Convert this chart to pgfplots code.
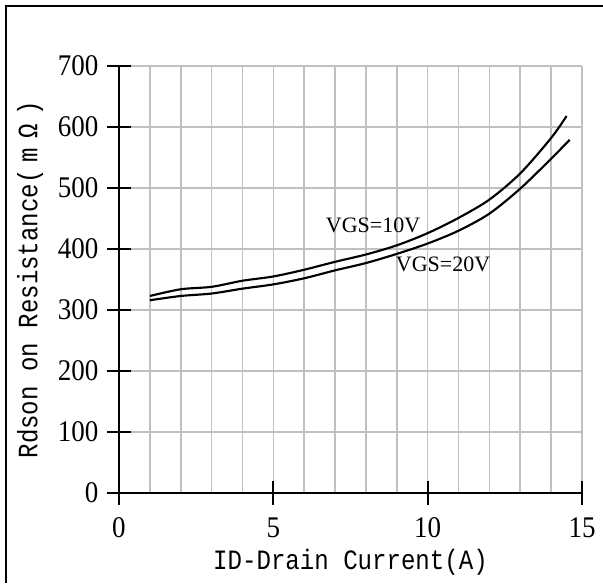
\documentclass[border=0pt]{standalone}
\usepackage{fontspec}
\setmainfont{Liberation Serif}
\newfontfamily\monof[FakeStretch=0.86]{Liberation Mono}
\newfontfamily\tickf[FakeStretch=0.9]{Liberation Serif}
\usepackage{pgfplots}
\pgfplotsset{compat=1.18}
\definecolor{gridgray}{RGB}{192,192,192}
\begin{document}
\begin{tikzpicture}[x=1pt,y=1pt]
\useasboundingbox (0,0) rectangle (452.25,437.25);
\fill[white] (0,0) rectangle (452.25,437.25);
\draw[line width=1.5pt] (4.5,0) -- (4.5,432.75) -- (452.25,432.75);
\begin{axis}[
  at={(89.25pt,67.5pt)}, anchor=origin,
  scale only axis, width=347.25pt, height=320.25pt,
  xmin=0, xmax=15, ymin=0, ymax=700,
  axis x line*=bottom, axis y line*=left,
  axis line style={line width=1.3pt, black},
  xtick={0,5,10,15}, ytick={0,100,...,700},
  minor xtick={1,2,3,4,6,7,8,9,11,12,13,14},
  grid=both,
  major grid style={gridgray, line width=1.2pt},
  minor grid style={gridgray, line width=1.2pt},
  tick align=center,
  major tick length=18pt, minor tick length=0pt,
  tick style={black, line width=1.3pt},
  /pgf/number format/assume math mode=true,
  ticklabel style={font=\tickf\fontsize{22.5}{24}\selectfont},
  yticklabel style={xshift=-3pt},
  xticklabel style={yshift=-6pt},
  xlabel={\monof ID-Drain Current(A)},
  ylabel={\monof Rdson on Resistance(\hspace{5pt}m\hspace{7pt}Ω\hspace{7pt})},
  label style={font=\fontsize{21}{22}\selectfont},
  xlabel style={at={(axis description cs:0.5,-0.1616)}, anchor=center},
  ylabel style={at={(axis description cs:-0.192,0.5)}, anchor=center, rotate=0},
  clip=false,
]
\addplot[black, line width=1.6pt, smooth] coordinates {
(1,323) (2,334) (3,338) (4,348) (5,355) (6,366) (7,379) (8,391) (9,406) (10,426) (11,451) (12,481) (13,524) (14,582) (14.5,618)};
\addplot[black, line width=1.6pt, smooth] coordinates {
(1,316) (2,323) (3,327) (4,335) (5,342) (6,352) (7,365) (8,377) (9,392) (10,409) (11,430) (12,458) (13,499) (14,548) (14.6,579)};
\node[font=\fontsize{16.5}{18}\selectfont] at (axis cs:8.23,438) {VGS=10V};
\node[font=\fontsize{16.5}{18}\selectfont] at (axis cs:10.5,375) {VGS=20V};
\end{axis}
\end{tikzpicture}
\end{document}
